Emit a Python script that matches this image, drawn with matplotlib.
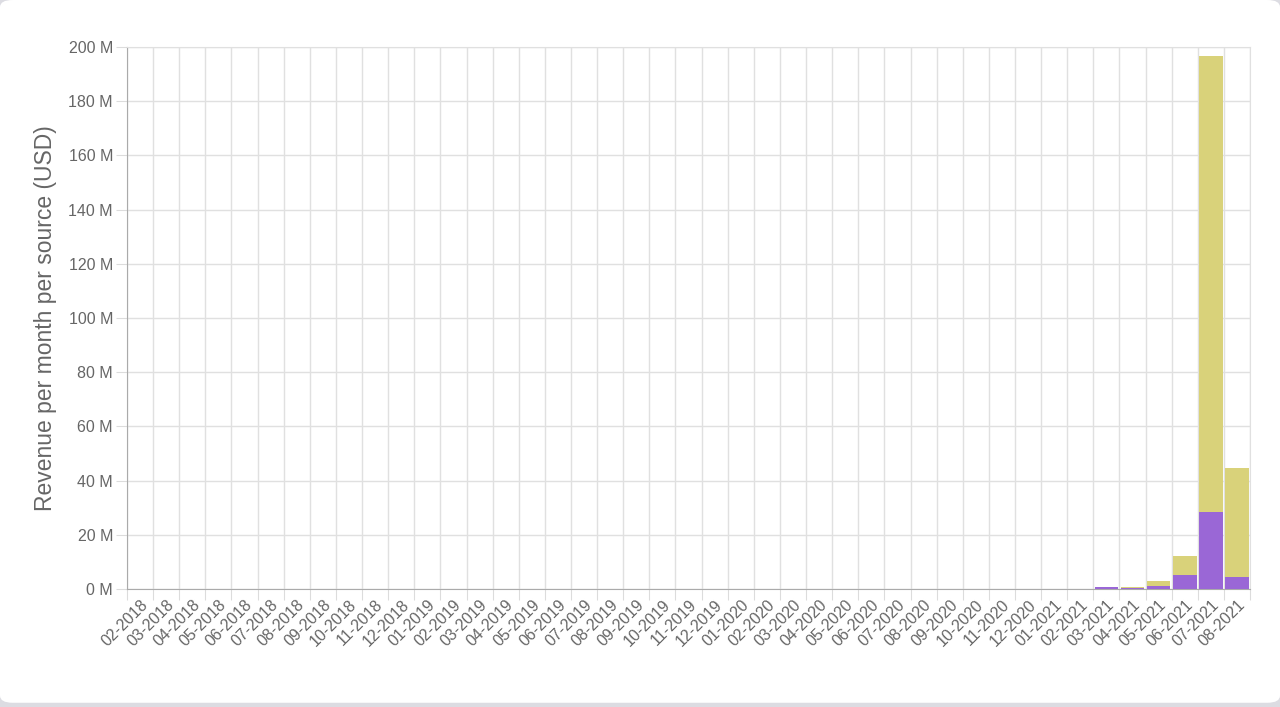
import numpy as np
import matplotlib
matplotlib.use('Agg')
import matplotlib.pyplot as plt
from matplotlib.patches import FancyBboxPatch

plt.rcParams['font.family'] = ['Liberation Sans', 'DejaVu Sans']

# months 02-2018 .. 08-2021
months = []
for y in range(2018, 2022):
    for m in range(1, 13):
        if (y == 2018 and m < 2) or (y == 2021 and m > 8):
            continue
        months.append(f"{m:02d}-{y}")

# revenue per source, millions USD
purple_vals = {"11-2020": 0.05, "12-2020": 0.05, "01-2021": 0.05, "02-2021": 0.1,
               "03-2021": 0.6, "04-2021": 0.4, "05-2021": 1.1, "06-2021": 5.2,
               "07-2021": 28.4, "08-2021": 4.4}
yellow_vals = {"03-2018": 0.1, "04-2018": 0.1, "04-2021": 0.3, "05-2021": 1.7,
               "06-2021": 6.9, "07-2021": 168.4, "08-2021": 40.2}
pink_vals = {"01-2019": 0.15}

purple = np.array([purple_vals.get(m, 0.0) for m in months])
yellow = np.array([yellow_vals.get(m, 0.0) for m in months])
pink = np.array([pink_vals.get(m, 0.0) for m in months])

fig = plt.figure(figsize=(12.8, 7.07), dpi=100)
fig.patch.set_facecolor('#dcdce2')
card = FancyBboxPatch((0.0, 0.006), 1.0, 0.994, boxstyle="round,pad=0,rounding_size=0.01",
                      transform=fig.transFigure, facecolor='white', edgecolor='none', zorder=-10)
fig.patches.append(card)

ax = fig.add_axes([0.0992, 0.1669, 0.8774, 0.7666])
ax.set_facecolor('white')

x = np.arange(len(months))
w = 0.9
ax.bar(x, purple, width=w, color='#9a67d6', zorder=3)
ax.bar(x, yellow, width=w, bottom=purple, color='#d9d27a', zorder=3)
ax.bar(x, pink, width=w, bottom=purple + yellow, color='#e07b91', zorder=3)

ax.set_xlim(-0.5, len(months) - 0.5)
ax.set_ylim(0, 200)
ax.set_yticks(np.arange(0, 201, 20))
ax.set_yticklabels([f"{v} M" for v in range(0, 201, 20)])

# gridlines sit on category boundaries
ax.set_xticks(np.arange(len(months) + 1) - 0.5)
ax.set_xticklabels([])
ax.set_xticks(x, minor=True)
ax.set_xticklabels(months, minor=True, rotation=45, ha='right', rotation_mode='anchor')
ax.tick_params(axis='x', which='minor', length=0, pad=6, labelsize=11.5, labelcolor='#666666')
ax.tick_params(axis='x', which='major', length=8, color='#dcdcdc')
ax.tick_params(axis='y', length=8, color='#dcdcdc', labelsize=11.5, labelcolor='#666666', pad=2)

ax.grid(True, which='major', color='#e0e0e0', linewidth=1, zorder=0)
for s in ['top', 'right']:
    ax.spines[s].set_color('#e0e0e0')
ax.spines['left'].set_color('#aaaaaa')
ax.spines['bottom'].set_color('#aaaaaa')

ax.set_ylabel('Revenue per month per source (USD)', fontsize=16.5, color='#666666', labelpad=8)

plt.savefig('out.png', dpi=100, facecolor=fig.get_facecolor())
